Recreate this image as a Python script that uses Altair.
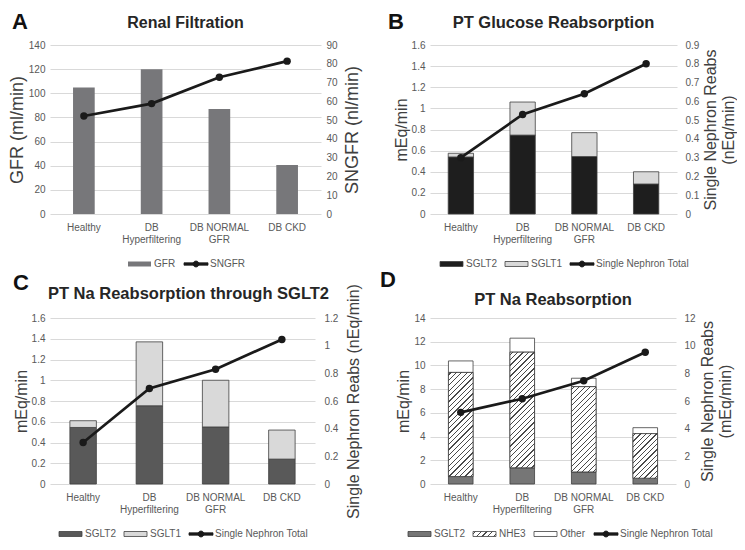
import altair as alt
import pandas as pd

categories = ["Healthy", "DB Hyperfiltering", "DB NORMAL GFR", "DB CKD"]
titles = ["Renal Filtration", "PT Glucose Reabsorption",
          "PT Na Reabsorption through SGLT2", "PT Na Reabsorption"]
letters = ["A", "B", "C", "D"]

# Panel A
a_gfr = [104.8, 120.0, 86.9, 40.6]
a_sngfr = [52.2, 58.8, 72.8, 81.4]
# Panel B
b_sglt2 = [0.54, 0.747, 0.544, 0.284]
b_sglt1 = [0.035, 0.313, 0.226, 0.116]
b_single = [0.30, 0.53, 0.64, 0.80]
# Panel C
c_sglt2 = [0.545, 0.754, 0.55, 0.24]
c_sglt1 = [0.065, 0.616, 0.45, 0.28]
c_single = [0.30, 0.69, 0.83, 1.045]
# Panel D
d_sglt2 = [0.63, 1.37, 1.02, 0.49]
d_nhe3 = [8.78, 9.75, 7.19, 3.76]
d_other = [0.97, 1.18, 0.71, 0.50]
d_single = [5.18, 6.16, 7.46, 9.53]

FONT = "Liberation Sans"
LABEL_C = "#595959"
TITLE_C = "#404040"
GRID_C = "#d9d9d9"
LINE_C = "#1a1a1a"
EDGE_C = "#404040"

LABEL_EXPR = ("datum.value == 'DB Hyperfiltering' ? ['DB', 'Hyperfiltering'] : "
              "datum.value == 'DB NORMAL GFR' ? ['DB NORMAL', 'GFR'] : datum.label")

BAR_PATH = "M-1,-0.833L6.667,-0.833L6.667,0.833L-1,0.833Z"
LINE_PATH = "M-1,-0.4L7,-0.4L7,0.4L-1,0.4Z M4,0A1,1,0,1,1,2,0A1,1,0,1,1,4,0Z"


def hatch_stops(w, h, spacing=3.8, line=0.9, bg="#ffffff", fg="#4a4a4a"):
    k = (w + h) / (w * w + h * h)
    n = max(1, round((w + h) / (2 ** 0.5 * spacing)))
    f = line / spacing / 2 / n
    stops = []
    for i in range(n):
        t = (i + 0.5) / n
        a, b = max(0.0, t - f), min(1.0, t + f)
        stops += [(a, bg), (a, fg), (b, fg), (b, bg)]
    return w * k, h * k, stops


def hatch(w, h):
    x2, y2, stops = hatch_stops(w, h)
    return alt.LinearGradient(gradient="linear", x1=0, y1=0, x2=x2, y2=y2,
                              stops=[alt.GradientStop(offset=o, color=c) for o, c in stops])


def hatch_expr(w, h):
    x2, y2, stops = hatch_stops(w, h)
    st = ",".join("{offset:%.4f,color:'%s'}" % (o, c) for o, c in stops)
    return alt.ExprRef(expr="{gradient:'linear',x1:0,y1:0,x2:%.4f,y2:%.4f,stops:[%s]}"
                       % (x2, y2, st))


def stack_df(names, values):
    rows = []
    for i, c in enumerate(categories):
        lo = 0.0
        for nm, vals in zip(names, values):
            hi = lo + vals[i]
            rows.append({"cat": c, "series": nm, "lo": lo, "hi": hi})
            lo = hi
    return pd.DataFrame(rows)


def panel(p):
    W, H = p["W"], p["H"]
    pi = p["pad"]
    x_enc = alt.X("cat:N", sort=categories,
                  scale=alt.Scale(paddingInner=pi, paddingOuter=pi / 2),
                  axis=alt.Axis(title=None, labelAngle=0, labelExpr=LABEL_EXPR,
                                ticks=False, domain=False, labelPadding=8,
                                labelFontSize=10, labelColor=LABEL_C,
                                labelLineHeight=12, labelFont=FONT, grid=False))
    yscale = alt.Scale(domain=p["ldom"], nice=False, zero=True)
    left_axis = alt.Axis(values=p["lvals"], format=".1~f", title=p["ltitle"],
                         titleFontSize=p["ltsize"], titleFontWeight="normal",
                         titleColor=TITLE_C, titleFont=FONT, titlePadding=2,
                         labelFontSize=10, labelColor=LABEL_C, labelFont=FONT,
                         labelPadding=5, ticks=False, domain=False,
                         grid=True, gridColor=GRID_C, gridWidth=1)
    df = stack_df(p["names"], p["values"])
    entries = p["entries"]
    names = [e["name"] for e in entries]
    fills = [e.get("legfill", e["color"]) for e in entries]
    legend = alt.Legend(orient="none", legendX=p["legx"], legendY=H + p["legdy"],
                        direction="horizontal", title=None, symbolSize=36,
                        symbolStrokeWidth=0.8, labelOffset=18, columnPadding=6,
                        padding=0, labelFontSize=10, labelColor=LABEL_C,
                        labelFont=FONT, labelLimit=300, symbolOpacity=1)
    fill_enc = alt.Fill("series:N", scale=alt.Scale(domain=names, range=fills), legend=legend)
    mark_kw = {"stroke": EDGE_C, "strokeWidth": 0.8} if p["edge"] else {"strokeWidth": 0}
    bars = alt.Chart(df).mark_bar(**mark_kw).encode(
        x=x_enc,
        y=alt.Y("hi:Q", scale=yscale, axis=left_axis),
        y2="lo:Q",
        fill=fill_enc,
    )
    inner = [bars]
    if p.get("hatch"):
        bw = W / 4 * (1 - pi)
        for c, v in zip(categories, p["hatch"]):
            h = v * H / p["ldom"][1]
            inner.append(
                alt.Chart(df)
                .transform_filter(f"datum.series == 'NHE3' && datum.cat == '{c}'")
                .mark_bar(fill=hatch(bw, h), stroke=EDGE_C, strokeWidth=0.8)
                .encode(x=x_enc, y=alt.Y("hi:Q", scale=yscale, axis=left_axis), y2="lo:Q")
            )
    # legend helper (no marks drawn: all rows filtered out)
    key = alt.Chart(df).transform_filter("false").mark_point(
        filled=True, opacity=1, strokeWidth=0.8).encode(
        fill=fill_enc,
        shape=alt.Shape("series:N", scale=alt.Scale(domain=names, range=[e["shape"] for e in entries]), legend=legend),
        stroke=alt.Stroke("series:N", scale=alt.Scale(domain=names, range=[e["stroke"] for e in entries]), legend=legend),
    )
    inner.append(key)
    ldf = pd.DataFrame({"cat": categories, "v": p["line"]})
    right_axis = alt.Axis(orient="right", values=p["rvals"], format=".1~f",
                          title=p["rtitle"], titleFontSize=p["ltsize"],
                          titleFontWeight="normal", titleColor=TITLE_C,
                          titleFont=FONT, titleAngle=-90, titleBaseline="top",
                          titlePadding=p["rtp"], labelFontSize=10,
                          labelColor=LABEL_C, labelFont=FONT, labelPadding=p["rlp"],
                          ticks=False, domain=False, grid=False, titleLimit=400)
    line = alt.Chart(ldf).mark_line(
        color=LINE_C, strokeWidth=2.7,
        point=alt.OverlayMarkDef(filled=True, size=55, color=LINE_C)
    ).encode(x=x_enc, y=alt.Y("v:Q", scale=alt.Scale(domain=p["rdom"], nice=False),
                               axis=right_axis))
    tdf = pd.DataFrame({"t": [p["title"]]})
    title = alt.Chart(tdf).mark_text(font=FONT, fontSize=p["tsize"], fontWeight="bold",
                                     color="#262626", align="center",
                                     baseline="alphabetic").encode(
        text="t:N", x=alt.value(W / 2 + p["tdx"]), y=alt.value(p["ty"]))
    ldf2 = pd.DataFrame({"t": [p["letter"]]})
    letter = alt.Chart(ldf2).mark_text(font=FONT, fontSize=22, fontWeight="bold",
                                       color="#111111", align="left",
                                       baseline="alphabetic").encode(
        text="t:N", x=alt.value(p["lx"]), y=alt.value(p["ly"]))
    return (alt.layer(alt.layer(*inner), line, title, letter)
            .resolve_scale(y="independent")
            .properties(width=W, height=H))


def ent(name, color, stroke, shape=BAR_PATH, legfill=None):
    d = {"name": name, "color": color, "stroke": stroke, "shape": shape}
    if legfill is not None:
        d["legfill"] = legfill
    return d


pA = panel(dict(
    W=271, H=169, pad=0.68, ldom=[0, 140], lvals=list(range(0, 141, 20)),
    rdom=[0, 90], rvals=list(range(0, 91, 10)),
    ltitle="GFR (ml/min)", rtitle="SNGFR (nl/min)", ltsize=18, rlp=5, rtp=6,
    names=["GFR"], values=[a_gfr], line=a_sngfr, edge=False,
    entries=[ent("GFR", "#77777a", "transparent"),
             ent("SNGFR", LINE_C, LINE_C, LINE_PATH)],
    legx=76, legdy=45, title=titles[0], tsize=16, tdx=0, ty=-17,
    letter=letters[0], lx=-38, ly=-16))

pB = panel(dict(
    W=247, H=169, pad=0.59, ldom=[0, 1.6], lvals=[round(i * 0.2, 1) for i in range(9)],
    rdom=[0, 0.9], rvals=[round(i * 0.1, 1) for i in range(10)],
    ltitle="mEq/min", rtitle=["Single Nephron Reabs", "(nEq/min)"], ltsize=16,
    rlp=8, rtp=-14,
    names=["SGLT2", "SGLT1"], values=[b_sglt2, b_sglt1], line=b_single, edge=True,
    entries=[ent("SGLT2", "#1e1e1e", EDGE_C), ent("SGLT1", "#d9d9d9", EDGE_C),
             ent("Single Nephron Total", LINE_C, LINE_C, LINE_PATH)],
    legx=8, legdy=45, title=titles[1], tsize=16.5, tdx=0, ty=-17,
    letter=letters[1], lx=-42, ly=-16))

pC = panel(dict(
    W=265, H=166, pad=0.6, ldom=[0, 1.6], lvals=[round(i * 0.2, 1) for i in range(9)],
    rdom=[0, 1.2], rvals=[round(i * 0.2, 1) for i in range(7)],
    ltitle="mEq/min", rtitle="Single Nephron Reabs (nEq/min)", ltsize=16,
    rlp=9, rtp=8,
    names=["SGLT2", "SGLT1"], values=[c_sglt2, c_sglt1], line=c_single, edge=True,
    entries=[ent("SGLT2", "#595959", EDGE_C), ent("SGLT1", "#d9d9d9", EDGE_C),
             ent("Single Nephron Total", LINE_C, LINE_C, LINE_PATH)],
    legx=7, legdy=45, title=titles[2], tsize=16.5, tdx=6, ty=-19,
    letter=letters[2], lx=-37, ly=-28))

pD = panel(dict(
    W=246, H=166, pad=0.6, ldom=[0, 14], lvals=list(range(0, 15, 2)),
    rdom=[0, 12], rvals=list(range(0, 13, 2)),
    ltitle="mEq/min", rtitle=["Single Nephron Reabs", "(mEq/min)"], ltsize=16,
    rlp=8, rtp=-14,
    names=["SGLT2", "NHE3", "Other"], values=[d_sglt2, d_nhe3, d_other],
    line=d_single, edge=True, hatch=d_nhe3,
    entries=[ent("SGLT2", "#767676", EDGE_C),
             ent("NHE3", "#ffffff", EDGE_C, legfill=hatch_expr(23, 5)),
             ent("Other", "#ffffff", EDGE_C),
             ent("Single Nephron Total", LINE_C, LINE_C, LINE_PATH)],
    legx=-24, legdy=45, title=titles[3], tsize=16.5, tdx=0, ty=-13,
    letter=letters[3], lx=-50, ly=-31))

RES = dict(fill="independent", shape="independent", stroke="independent")
row1 = alt.hconcat(pA, pB, spacing=26).resolve_scale(**RES).resolve_legend(**RES)
row2 = alt.hconcat(pC, pD, spacing=18).resolve_scale(**RES).resolve_legend(**RES)
chart = (alt.vconcat(row1, row2, spacing=0)
         .resolve_scale(**RES).resolve_legend(**RES)
         .properties(padding={"top": 3, "left": 0, "right": 0, "bottom": 0})
         .configure_view(stroke=None))

chart.save("out.html", embed_options={"renderer": "svg", "actions": False})
